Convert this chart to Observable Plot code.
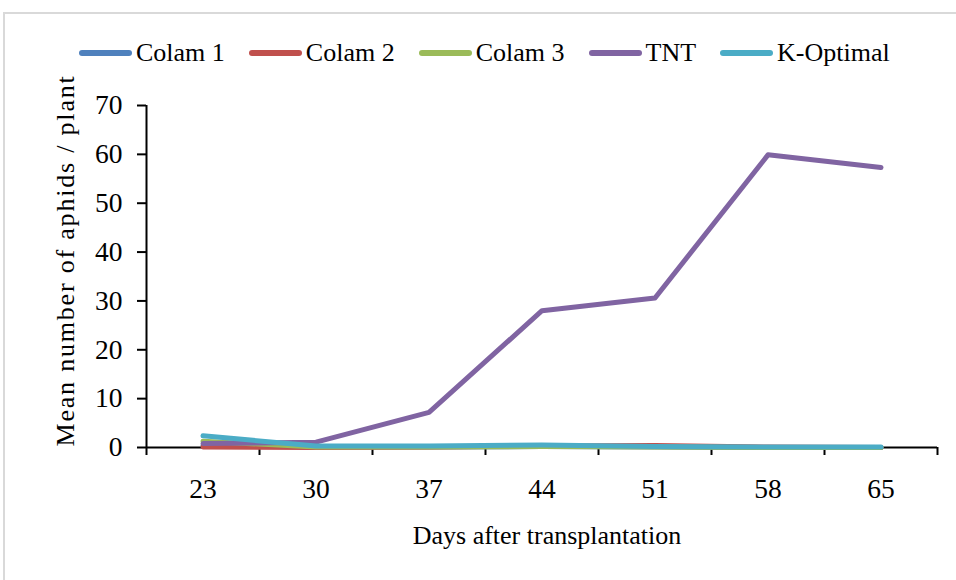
<!DOCTYPE html>
<html>
<head>
<meta charset="utf-8">
<script src="https://cdn.jsdelivr.net/npm/d3@7"></script>
<script src="https://cdn.jsdelivr.net/npm/@observablehq/plot@0.6"></script>
<style>
  html, body { margin: 0; padding: 0; background: #fff; }
  #wrap { position: relative; width: 956px; height: 580px; overflow: hidden; background: #fff;
          font-family: "Liberation Serif", "Times New Roman", serif; }
  #frame { position: absolute; left: 3px; top: 12px; width: 970px; height: 600px;
           border-left: 2px solid #d9d9d9; border-top: 2px solid #d9d9d9; }
  #chart { position: absolute; left: 0; top: 0; }
  #legend { position: absolute; left: 79px; top: 38px; display: flex; align-items: center;
            font-size: 26px; color: #000; white-space: nowrap; }
  .item { display: flex; align-items: center; margin-right: 24px; }
  .sw { display: inline-block; width: 53px; height: 6px; border-radius: 3px; margin-right: 4px; }
</style>
</head>
<body>
<div id="wrap">
  <div id="frame"></div>
  <div id="chart"></div>
  <div id="legend"></div>
</div>
<script>
const days = [23, 30, 37, 44, 51, 58, 65];
const seriesNames = ["Colam 1", "Colam 2", "Colam 3", "TNT", "K-Optimal"];
const colam1 = [0.4, 0.1, 0.1, 0.2, 0.1, 0.0, 0.0];
const colam2 = [0.1, 0.0, 0.1, 0.3, 0.4, 0.1, 0.0];
const colam3 = [1.3, 0.1, 0.1, 0.2, 0.1, 0.0, 0.0];
const tnt = [0.8, 1.1, 7.2, 28.0, 30.6, 59.9, 57.3];
const kOptimal = [2.4, 0.3, 0.3, 0.5, 0.2, 0.1, 0.1];
const yTicks = [0, 10, 20, 30, 40, 50, 60, 70];
const colors = ["#4F81BD", "#C0504D", "#9BBB59", "#8064A2", "#4BACC6"];
const xTitle = "Days after transplantation";
const yTitle = "Mean number of aphids / plant";

const values = [colam1, colam2, colam3, tnt, kOptimal];
const data = [];
seriesNames.forEach((s, i) => days.forEach((d, j) => data.push({series: s, day: d, value: values[i][j]})));

const step = days[1] - days[0];
const boundaries = days.map(d => d - step / 2).concat([days[days.length - 1] + step / 2]);
const xDomain = [boundaries[0], boundaries[boundaries.length - 1]];

const font = "Liberation Serif, Times New Roman, serif";

const marks = [
  Plot.ruleX([xDomain[0]], {stroke: "#000", strokeWidth: 2}),
  Plot.ruleY([0], {stroke: "#000", strokeWidth: 2}),
  Plot.axisY({ticks: yTicks, tickSize: 9, tickPadding: 15, strokeWidth: 2, label: null, tickFormat: d => String(d), className: "ticklab"}),
  Plot.axisX({ticks: boundaries, tickSize: 8, strokeWidth: 2, tickFormat: () => "", label: null}),
  Plot.axisX({ticks: days, tickSize: 0, tickPadding: 31, label: null, tickFormat: d => String(d), className: "ticklab"}),
  ...seriesNames.map((s, i) => Plot.line(data.filter(r => r.series === s), {
    x: "day", y: "value", stroke: colors[i], strokeWidth: 5, strokeLinejoin: "round", strokeLinecap: "round"
  })),
  Plot.text([xTitle], {frameAnchor: "bottom", dy: 96, dx: 5, text: d => d}),
  Plot.text([yTitle], {frameAnchor: "left", textAnchor: "middle", lineAnchor: "middle", rotate: -90, dx: -81, dy: -16, text: d => d, className: "ytitle"})
];

const chart = Plot.plot({
  width: 956,
  height: 580,
  marginLeft: 146,
  marginRight: 19,
  marginTop: 105,
  marginBottom: 133,
  style: {fontFamily: font, fontSize: "26px", color: "#000", background: "transparent", overflow: "visible"},
  x: {type: "linear", domain: xDomain},
  y: {domain: [0, 70]},
  marks
});
document.getElementById("chart").appendChild(chart);
chart.querySelectorAll("text").forEach(t => { t.style.fontSize = "26px"; t.style.fontFamily = font; });
chart.querySelectorAll("g.ticklab text, text.ticklab").forEach(t => { t.style.fontSize = "27.5px"; });
chart.querySelectorAll("g.ytitle text, text.ytitle").forEach(t => t.setAttribute("letter-spacing", "1.8"));

const legend = document.getElementById("legend");
seriesNames.forEach((s, i) => {
  const it = document.createElement("div");
  it.className = "item";
  const sw = document.createElement("span");
  sw.className = "sw";
  sw.style.background = colors[i];
  const tx = document.createElement("span");
  tx.textContent = s;
  it.appendChild(sw);
  it.appendChild(tx);
  legend.appendChild(it);
});
</script>
</body>
</html>
